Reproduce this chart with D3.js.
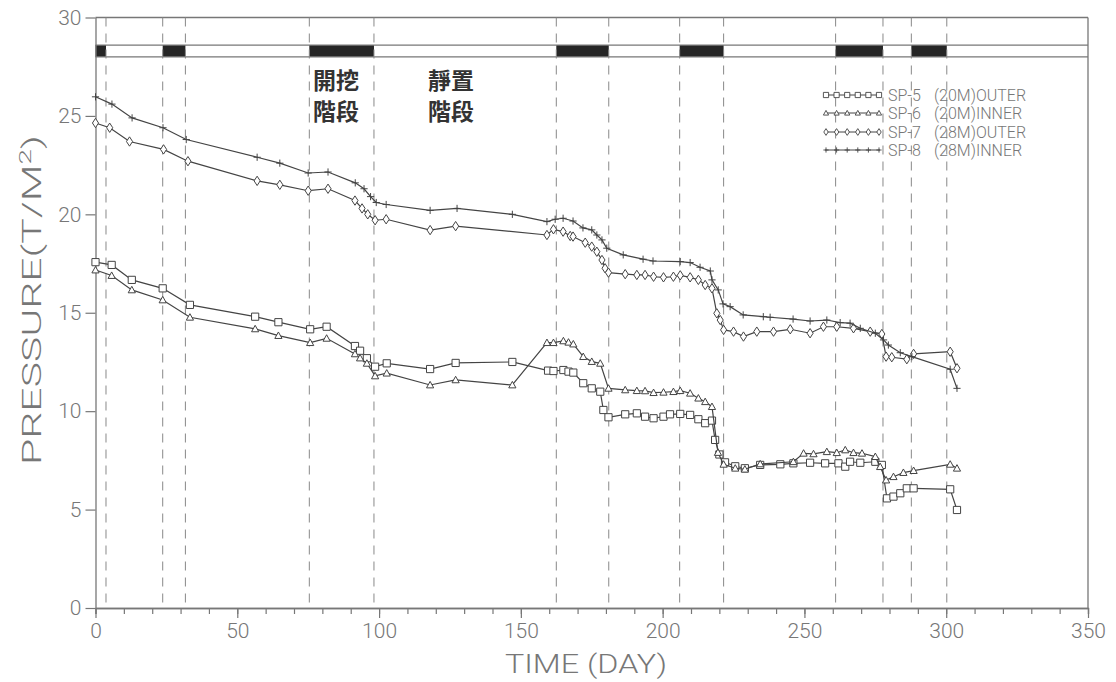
<!DOCTYPE html>
<html>
<head>
<meta charset="utf-8">
<script src="https://cdn.jsdelivr.net/npm/d3@7/dist/d3.min.js"></script>
<style>
  body { margin: 0; background: #fff; }
  svg text { font-family: Roboto, "DejaVu Sans", sans-serif; font-weight: 300; fill: #777; }
  .cjk { font-family: "Noto Sans CJK TC", sans-serif; font-weight: 700; fill: #333; }
</style>
</head>
<body>
<svg id="chart" width="1116" height="682"></svg>
<script>
// construction schedule: black blocks on the band, dashed lines at their edges
var phaseStart = [0, 23.7, 75.4, 162.5, 206, 261, 287.7];
var phaseEnd = [3.7, 31.7, 98.2, 181, 221.5, 277.7, 300.2];

var xTicks = [0, 50, 100, 150, 200, 250, 300, 350];
var yTicks = [0, 5, 10, 15, 20, 25, 30];

var sp5Days = [0, 5.7, 12.8, 23.7, 33.3, 56.3, 64.5, 75.7, 81.5, 91.5, 93.3, 95.7, 98.6, 102.7, 118, 127, 147,
	159.6, 161.5, 165, 166.8, 168.5, 172, 175, 178, 179.1, 180.9, 186.8, 190.9, 193.8, 196.8, 200.3, 202.6, 206.2,
	209.7, 212.6, 215, 217.4, 218.5, 220, 222, 225.6, 229, 234.4, 241.5, 246.1, 252, 257.3, 262, 264.4, 266.1,
	269.7, 275, 277.3, 279.1, 281.4, 283.8, 286.1, 288.5, 301.4, 303.8];
var sp5Vals = [17.57, 17.43, 16.67, 16.24, 15.4, 14.8, 14.52, 14.16, 14.29, 13.31, 13.07, 12.69, 12.26, 12.43, 12.14, 12.45, 12.5,
	12.06, 12.04, 12.09, 12.01, 11.96, 11.42, 11.16, 10.99, 10.06, 9.69, 9.84, 9.89, 9.72, 9.64, 9.72, 9.84, 9.86,
	9.81, 9.59, 9.39, 9.52, 8.54, 7.8, 7.4, 7.2, 7.1, 7.27, 7.3, 7.35, 7.38, 7.35, 7.35, 7.18, 7.43,
	7.38, 7.43, 7.27, 5.57, 5.66, 5.83, 6.08, 6.08, 6.03, 4.98];

var sp6Days = [0, 5.7, 12.8, 23.7, 33.3, 56.3, 64.5, 75.7, 81.5, 91.5, 93.3, 95.7, 98.6, 102.7, 118, 127, 147,
	159.2, 161.5, 165, 166.8, 168.5, 172, 175, 178, 180.9, 186.8, 190.9, 193.8, 196.8, 200.3, 203.8, 206.2, 209.7,
	212.6, 215, 217.4, 219.5, 221.5, 225.6, 229, 234.4, 246.1, 249.7, 253.2, 257.9, 261.4, 264.4, 267.3, 270.3,
	275, 276.7, 278.8, 281.4, 284.9, 288.5, 301.4, 303.8];
var sp6Vals = [17.17, 16.89, 16.16, 15.65, 14.77, 14.18, 13.84, 13.48, 13.7, 12.91, 12.7, 12.43, 11.79, 11.93, 11.33, 11.59, 11.33,
	13.48, 13.48, 13.57, 13.5, 13.41, 12.77, 12.52, 12.43, 11.16, 11.08, 11.04, 11.03, 10.94, 10.96, 10.99, 11.04, 10.91,
	10.66, 10.48, 10.23, 7.9, 7.3, 7.1, 7.05, 7.32, 7.43, 7.86, 7.83, 7.94, 7.89, 8.03, 7.89, 7.86,
	7.69, 7.18, 6.5, 6.67, 6.88, 6.98, 7.3, 7.1];

var sp7Days = [0, 5, 12, 24, 32.6, 57, 65, 75, 82, 91.5, 94, 96, 98.6, 102.5, 118, 127, 159.2, 161.5, 164.9, 167.4,
	168.4, 172.7, 175, 176.8, 178.6, 179.7, 180.9, 186.8, 190.9, 193.8, 196.8, 200.3, 203.8, 206.2, 209.7, 212.6,
	215, 217.4, 219.1, 220.3, 221.5, 225, 228.5, 233.2, 239.1, 245, 252, 256.7, 261.4, 267.3, 273.2, 277.3, 278.8,
	280.8, 286.1, 288.5, 301.4, 303.8];
var sp7Vals = [24.64, 24.4, 23.7, 23.3, 22.7, 21.7, 21.5, 21.2, 21.3, 20.7, 20.3, 20.0, 19.7, 19.75, 19.2, 19.4, 18.95, 19.24, 19.12, 18.9,
	18.87, 18.56, 18.36, 18.1, 17.68, 17.26, 17.04, 16.96, 16.92, 16.92, 16.83, 16.8, 16.83, 16.9, 16.8, 16.67,
	16.41, 16.24, 14.97, 14.63, 14.13, 14.04, 13.79, 14.04, 14.04, 14.16, 13.96, 14.29, 14.29, 14.21, 14.04, 13.92, 12.77,
	12.74, 12.64, 12.91, 13.02, 12.18];

var sp8Days = [0, 5.8, 12.9, 23.8, 32, 57, 65, 75, 82, 91.6, 94.7, 97, 99, 102.5, 118, 127.5, 147, 159.2, 162.1,
	164.9, 168.4, 171.9, 175, 176.8, 178.6, 180.3, 186.1, 193.1, 196.6, 206.2, 209.7, 213.2, 216.8, 217.4, 219.6,
	221.3, 223.8, 228.4, 235.5, 237.9, 246, 252, 257.9, 262.6, 266.1, 269.7, 275, 277.9, 279.6, 283.8, 287.9,
	301.4, 303.8];
var sp8Vals = [25.97, 25.6, 24.9, 24.4, 23.8, 22.9, 22.6, 22.1, 22.15, 21.6, 21.3, 20.9, 20.6, 20.5, 20.2, 20.3, 20.0, 19.63, 19.75,
	19.8, 19.66, 19.31, 19.21, 18.95, 18.7, 18.28, 17.94, 17.72, 17.63, 17.6, 17.55, 17.31, 17.12, 16.67, 16.16,
	15.45, 15.31, 14.89, 14.8, 14.77, 14.68, 14.58, 14.63, 14.5, 14.47, 14.21, 13.96, 13.62, 13.36, 12.97, 12.77,
	12.13, 11.16];

var seriesNames = ['SP-5', 'SP-6', 'SP-7', 'SP-8'];
var seriesNotes = ['(20M)OUTER', '(20M)INNER', '(28M)OUTER', '(28M)INNER'];
var seriesMarks = ['square', 'triangle', 'diamond', 'plus'];

var svg = d3.select('#chart');
var x = d3.scaleLinear().domain([0, 350]).range([95.5, 1088]);
var y = d3.scaleLinear().domain([0, 30]).range([608, 17.5]);
var axisColor = '#777';
var lineColor = '#444';

function markPath(kind, s) {
	if (kind == 'square') return 'M' + (-s) + ',' + (-s) + 'H' + s + 'V' + s + 'H' + (-s) + 'Z';
	if (kind == 'triangle') return 'M0,' + (-s) + 'L' + s + ',' + (s * 0.8) + 'H' + (-s) + 'Z';
	if (kind == 'diamond') return 'M0,' + (-s * 1.3) + 'L' + (s * 0.85) + ',0L0,' + (s * 1.3) + 'L' + (-s * 0.85) + ',0Z';
	return 'M' + (-s) + ',0H' + s + 'M0,' + (-s) + 'V' + s;
}

function drawFrame() {
	var g = svg.append('g');
	// schedule band
	g.selectAll('rect.phase')
		.data(d3.range(phaseStart.length))
		.enter()
		.append('rect')
		.attr('class', 'phase')
		.attr('x', function(i) { return x(phaseStart[i]); })
		.attr('width', function(i) { return x(phaseEnd[i]) - x(phaseStart[i]); })
		.attr('y', y(28.6))
		.attr('height', y(28) - y(28.6))
		.style('fill', '#262626');

	[28, 28.6, 30].forEach(function(v) {
		g.append('line')
			.attr('x1', x(0)).attr('x2', x(350))
			.attr('y1', y(v)).attr('y2', y(v))
			.style('stroke', axisColor).style('stroke-width', 1.3);
	});
	g.append('line')
		.attr('x1', x(350)).attr('x2', x(350))
		.attr('y1', y(30)).attr('y2', y(0))
		.style('stroke', axisColor).style('stroke-width', 1.3);

	var edges = phaseStart.slice(1).concat(phaseEnd);
	g.selectAll('line.edge')
		.data(edges)
		.enter()
		.append('line')
		.attr('class', 'edge')
		.attr('x1', function(d) { return x(d); })
		.attr('x2', function(d) { return x(d); })
		.attr('y1', y(30)).attr('y2', y(0))
		.style('stroke', '#888')
		.style('stroke-width', 1)
		.style('stroke-dasharray', '9,7');
}

function drawAxes() {
	var xMinor = svg.append('g')
		.attr('transform', 'translate(0,' + y(0) + ')')
		.call(d3.axisBottom(x).tickValues(d3.range(0, 351, 10)).tickSize(6).tickFormat(''));
	var xAxis = svg.append('g')
		.attr('transform', 'translate(0,' + y(0) + ')')
		.call(d3.axisBottom(x).tickValues(xTicks).tickSize(10).tickPadding(5).tickSizeOuter(0));
	var yAxis = svg.append('g')
		.attr('transform', 'translate(' + x(0) + ',0)')
		.call(d3.axisLeft(y).tickValues(yTicks).tickSize(10).tickPadding(4).tickSizeOuter(0));

	[xMinor, xAxis, yAxis].forEach(function(a) {
		a.selectAll('path').style('stroke', axisColor).style('stroke-width', 1.3);
		a.selectAll('line').style('stroke', axisColor).style('stroke-width', 1.2);
		a.selectAll('text').style('font-size', '21px').style('fill', '#777')
			.style('font-family', 'Roboto, sans-serif').style('font-weight', 300);
	});

	svg.append('text')
		.attr('x', 586).attr('y', 673)
		.attr('text-anchor', 'middle')
		.attr('textLength', 162).attr('lengthAdjust', 'spacingAndGlyphs')
		.style('font-size', '26px')
		.text('TIME (DAY)');

	var yt = svg.append('text')
		.attr('transform', 'translate(41,300) rotate(-90)')
		.attr('text-anchor', 'middle')
		.attr('textLength', 330).attr('lengthAdjust', 'spacingAndGlyphs')
		.style('font-size', '26px');
	yt.append('tspan').text('PRESSURE(T/M');
	yt.append('tspan').attr('dy', -10).style('font-size', '17px').text('2');
	yt.append('tspan').attr('dy', 10).text(')');
}

function drawStageLabels() {
	var labels = [['開挖', '階段', 336], ['靜置', '階段', 451]];
	labels.forEach(function(l) {
		svg.append('text').attr('class', 'cjk').attr('x', l[2]).attr('y', 89)
			.attr('text-anchor', 'middle').style('font-size', '23px').text(l[0]);
		svg.append('text').attr('class', 'cjk').attr('x', l[2]).attr('y', 120)
			.attr('text-anchor', 'middle').style('font-size', '23px').text(l[1]);
	});
}

function drawSeries(days, vals, kind) {
	var pts = days.map(function(d, i) { return [d, vals[i]]; });
	var line = d3.line()
		.x(function(d) { return x(d[0]); })
		.y(function(d) { return y(d[1]); });
	var g = svg.append('g');
	g.append('path')
		.attr('d', line(pts))
		.style('fill', 'none')
		.style('stroke', lineColor)
		.style('stroke-width', 1.2);
	g.selectAll('path.mark')
		.data(pts)
		.enter()
		.append('path')
		.attr('class', 'mark')
		.attr('transform', function(d) { return 'translate(' + x(d[0]) + ',' + y(d[1]) + ')'; })
		.attr('d', markPath(kind, 3.6))
		.style('fill', kind == 'plus' ? 'none' : '#fff')
		.style('stroke', lineColor)
		.style('stroke-width', 1);
}

function drawLegend() {
	var g = svg.append('g');
	var rowY = [95, 113, 132, 150];
	seriesNames.forEach(function(name, i) {
		g.append('line')
			.attr('x1', 825).attr('x2', 880)
			.attr('y1', rowY[i]).attr('y2', rowY[i])
			.style('stroke', lineColor).style('stroke-width', 1);
		d3.range(6).forEach(function(k) {
			g.append('path')
				.attr('transform', 'translate(' + (826 + k * 10.6) + ',' + rowY[i] + ')')
				.attr('d', markPath(seriesMarks[i], 2.6))
				.style('fill', seriesMarks[i] == 'plus' ? 'none' : '#fff')
				.style('stroke', lineColor).style('stroke-width', 0.9);
		});
		g.append('text').attr('x', 888).attr('y', rowY[i] + 6)
			.style('font-size', '16px').text(name);
		g.append('text').attr('x', 934).attr('y', rowY[i] + 6)
			.style('font-size', '16px').text(seriesNotes[i]);
	});
}

drawFrame();
drawAxes();
drawStageLabels();
drawSeries(sp5Days, sp5Vals, 'square');
drawSeries(sp6Days, sp6Vals, 'triangle');
drawSeries(sp7Days, sp7Vals, 'diamond');
drawSeries(sp8Days, sp8Vals, 'plus');
drawLegend();
</script>
</body>
</html>
